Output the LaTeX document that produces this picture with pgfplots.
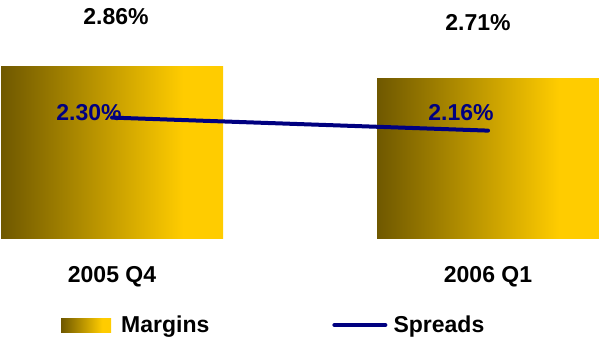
\documentclass[border=0pt]{standalone}
\usepackage{pgfplots}
\pgfplotsset{compat=1.18}
\usepackage{fontspec}
\setmainfont{Liberation Sans}
\definecolor{bardark}{RGB}{111,88,0}
\definecolor{bargold}{RGB}{255,204,0}
\definecolor{navyline}{RGB}{0,0,128}
\pgfdeclarehorizontalshading{bargrad}{100bp}{color(0bp)=(bardark); color(25bp)=(bardark); color(66bp)=(bargold); color(100bp)=(bargold)}
\newcommand{\lblfont}{\fontsize{23}{27}\selectfont\bfseries}
\begin{document}
\begin{tikzpicture}[font=\lblfont]
\begin{axis}[
  at={(0pt,0pt)}, anchor=south west,
  scale only axis, width=599pt, height=238.5pt,
  xmin=-0.2979, xmax=1.2952, ymin=0.716, ymax=3.697,
  axis line style={draw=none},
  ytick=\empty, xtick={0,1}, xticklabels={2005 Q4,2006 Q1},
  major tick length=0pt,
  xticklabel style={anchor=base, yshift=-43.5pt, font=\lblfont},
  legend columns=2,
  legend style={draw=none, fill=none, at={(0.1018,-0.3627)}, anchor=west,
    inner sep=0pt, font=\lblfont,
    /tikz/every even column/.append style={column sep=121pt}},
  clip=false,
]
\addplot[ybar, bar width=0.5904, bar shift=0pt, draw=none, shading=bargrad,
  legend image code/.code={\fill[shading=bargrad] (0pt,-7pt) rectangle (50pt,7pt); \path (58pt,0pt);}]
  coordinates {(0,2.86)};
\addlegendentry{Margins}
\addplot[ybar, bar width=0.5904, bar shift=0pt, draw=none, shading=bargrad, forget plot]
  coordinates {(1,2.71)};
\addlegendimage{legend image code/.code={\draw[navyline, line width=4pt, line cap=round] (2pt,0pt) -- (53pt,0pt); \path (59pt,0pt);}}
\addlegendentry{Spreads}
\node[anchor=base] at (axis cs:0.0106,3.385) {2.86\%};
\node[anchor=base] at (axis cs:0.9734,3.322) {2.71\%};
\node[anchor=base, text=navyline] at (axis cs:-0.0612,2.197) {2.30\%};
\node[anchor=base, text=navyline] at (axis cs:0.9282,2.197) {2.16\%};
\end{axis}
\begin{axis}[
  at={(0pt,0pt)}, anchor=south west,
  scale only axis, width=599pt, height=238.5pt,
  xmin=-0.2979, xmax=1.2952, ymin=1, ymax=3.5645,
  hide axis, clip=false,
]
\addplot[navyline, line width=4pt, line cap=round] coordinates {(0,2.30) (1,2.16)};
\end{axis}
\pgfresetboundingbox
\path (0pt,-98.5pt) rectangle (599pt,238.5pt);
\end{tikzpicture}
\end{document}
